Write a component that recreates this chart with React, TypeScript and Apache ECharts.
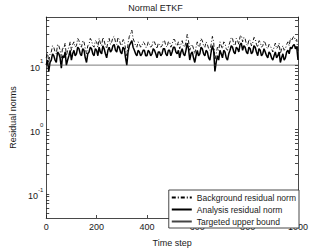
import React, { useEffect, useRef } from "react";
import * as echarts from "echarts";

const titleText = "Normal ETKF";
const xName = "Time step";
const yName = "Residual norms";
const seriesNames = ["Background residual norm", "Analysis residual norm", "Targeted upper bound"];

// time steps 0,5,...,1000
const timeSteps = Array.from({ length: 201 }, (_, i) => i * 5);

const analysisNorm = [
  10, 12, 8, 11, 12, 15, 14, 12, 11, 16, 15, 13, 9, 14, 13, 16, 10, 12, 14, 17,
  12, 15, 17, 14, 15, 19, 18, 15, 14, 18, 17, 13, 11, 15, 16, 19, 18, 15, 14, 18,
  17, 14, 19, 16, 15, 20, 18, 15, 13, 17, 19, 16, 17, 20, 21, 17, 16, 20, 19, 16,
  15, 19, 18, 13, 10, 16, 20, 22, 24, 19, 17, 15, 14, 17, 16, 14, 15, 17, 17, 14,
  14, 17, 16, 14, 15, 18, 17, 15, 13, 16, 16, 14, 15, 18, 18, 15, 14, 17, 17, 14,
  16, 19, 19, 16, 15, 17, 13, 16, 18, 15, 14, 17, 22, 18, 12, 15, 16, 13, 11, 14,
  17, 14, 15, 19, 18, 15, 14, 17, 16, 13, 12, 16, 20, 17, 8, 11, 14, 12, 17, 15,
  13, 17, 16, 13, 12, 15, 17, 20, 19, 16, 15, 19, 18, 16, 21, 22, 17, 20, 19, 16,
  15, 19, 18, 15, 16, 20, 19, 16, 14, 18, 17, 14, 15, 18, 16, 14, 13, 16, 15, 13,
  12, 14, 16, 13, 14, 16, 11, 13, 15, 12, 13, 16, 17, 15, 19, 18, 20, 21, 18, 19,
  12,
];

const backgroundNorm = [
  13, 16, 11, 15, 16, 20, 19, 16, 15, 21, 20, 17, 13, 19, 18, 22, 14, 17, 19, 23,
  17, 21, 23, 19, 20, 26, 24, 20, 19, 24, 23, 18, 15, 20, 21, 26, 24, 20, 19, 24,
  23, 19, 26, 22, 20, 27, 24, 20, 18, 23, 26, 21, 23, 27, 28, 23, 21, 27, 25, 21,
  20, 25, 24, 18, 14, 22, 28, 31, 35, 26, 23, 20, 19, 23, 21, 19, 20, 23, 22, 19,
  19, 23, 21, 19, 20, 24, 23, 20, 18, 22, 21, 19, 20, 24, 24, 20, 19, 23, 23, 19,
  21, 25, 25, 21, 20, 23, 18, 21, 24, 20, 19, 23, 30, 24, 17, 20, 21, 18, 15, 19,
  23, 19, 20, 26, 24, 20, 19, 23, 21, 18, 17, 21, 28, 23, 12, 15, 19, 17, 23, 20,
  18, 23, 22, 18, 17, 20, 23, 27, 26, 21, 20, 26, 24, 21, 28, 29, 23, 27, 26, 21,
  20, 25, 24, 20, 22, 27, 26, 21, 19, 24, 23, 19, 20, 24, 22, 19, 18, 21, 20, 18,
  16, 19, 22, 18, 19, 22, 15, 18, 20, 17, 18, 21, 23, 20, 26, 24, 27, 28, 24, 25,
  16,
];

const boundSteps = [0, 1000];
const boundValues = [10, 10];

const xTickValues = [0, 200, 400, 600, 800, 1000];
const yMajorExponents = [-1, 0, 1];
const yMinValue = 0.042;
const yMaxValue = 56;

const FONT = "'Liberation Sans', Arial, Helvetica, sans-serif";
const INK = "#1a1a1a";

export default function App() {
  const ref = useRef<HTMLDivElement>(null);
  useEffect(() => {
    if (!ref.current) return;
    const chart = echarts.init(ref.current, null, { renderer: "svg" });
    const lg = (v: number) => Math.log10(v);
    const yMin = lg(yMinValue);
    const yMax = lg(yMaxValue);
    const tickVals: number[] = [];
    for (let e = -2; e <= 1; e++) {
      for (let k = 1; k <= 9; k++) {
        const v = lg(k) + e;
        if (v >= yMin && v <= yMax) tickVals.push(v);
      }
    }
    const pair = (xs: number[], ys: number[]) => xs.map((x, i) => [x, lg(ys[i])]);

    const yLabel = {
      customValues: yMajorExponents,
      formatter: (v: number) => `{b|10}{s|${Math.round(v)}}`,
      margin: 3,
      fontSize: 9,
      fontFamily: FONT,
      color: INK,
      rich: {
        b: { fontSize: 9, fontFamily: FONT, color: INK, lineHeight: 14, verticalAlign: "bottom" },
        s: { fontSize: 6, fontFamily: FONT, color: INK, lineHeight: 6, verticalAlign: "top" },
      },
    };

    chart.setOption({
      animation: false,
      backgroundColor: "#fff",
      title: {
        text: titleText,
        left: "center",
        top: 1,
        padding: [2, 0, 2, 21],
        textStyle: { fontSize: 9, fontWeight: "normal", fontFamily: FONT, color: INK },
      },
      legend: {
        orient: "vertical",
        right: 12,
        bottom: 24,
        itemWidth: 20,
        itemHeight: 8,
        itemGap: 3,
        padding: [3, 3, 2, 2],
        borderColor: INK,
        borderWidth: 0.8,
        borderRadius: 0,
        backgroundColor: "#fff",
        itemStyle: { color: "rgba(0,0,0,0)", borderColor: "rgba(0,0,0,0)", borderWidth: 0, opacity: 0 },
        textStyle: { fontSize: 8.5, fontFamily: FONT, color: INK, lineHeight: 9 },
        data: seriesNames,
      },
      grid: { left: 32, right: 12, top: 17, bottom: 23, containLabel: false },
      xAxis: [
        {
          type: "value",
          min: 0,
          max: 1000,
          interval: 200,
          position: "bottom",
          name: xName,
          nameLocation: "middle",
          nameGap: 20,
          nameTextStyle: { fontSize: 9, fontFamily: FONT, color: INK },
          axisLine: { show: true, onZero: false, lineStyle: { color: INK, width: 0.8 } },
          axisTick: { inside: true, length: 3, lineStyle: { color: INK, width: 0.8 } },
          axisLabel: {
            fontSize: 9,
            fontFamily: FONT,
            color: INK,
            margin: 13,
            verticalAlign: "bottom",
            customValues: xTickValues,
            formatter: (v: number) => String(v),
          },
          splitLine: { show: false },
        },
        {
          type: "value",
          min: 0,
          max: 1000,
          interval: 200,
          position: "top",
          axisLine: { show: true, onZero: false, lineStyle: { color: INK, width: 0.8 } },
          axisTick: { inside: true, length: 3, lineStyle: { color: INK, width: 0.8 } },
          axisLabel: { show: false },
          splitLine: { show: false },
        },
      ],
      yAxis: [
        {
          type: "value",
          min: yMin,
          max: yMax,
          position: "left",
          name: yName,
          nameLocation: "middle",
          nameGap: 26,
          nameRotate: 90,
          nameTextStyle: { fontSize: 9, fontFamily: FONT, color: INK },
          axisLine: { show: true, onZero: false, lineStyle: { color: INK, width: 0.8 } },
          axisTick: { inside: true, length: 3, customValues: tickVals, lineStyle: { color: INK, width: 0.8 } },
          axisLabel: yLabel,
          splitLine: { show: false },
        },
        {
          type: "value",
          min: yMin,
          max: yMax,
          position: "right",
          axisLine: { show: true, onZero: false, lineStyle: { color: INK, width: 0.8 } },
          axisTick: { inside: true, length: 3, customValues: tickVals, lineStyle: { color: INK, width: 0.8 } },
          axisLabel: { show: false },
          splitLine: { show: false },
        },
      ],
      series: [
        {
          name: seriesNames[0],
          type: "line",
          symbol: "none",
          data: pair(timeSteps, backgroundNorm),
          lineStyle: { color: "#000", width: 0.9, type: [4, 2, 1, 2] },
          itemStyle: { color: "#000" },
        },
        {
          name: seriesNames[1],
          type: "line",
          symbol: "none",
          data: pair(timeSteps, analysisNorm),
          lineStyle: { color: "#000", width: 1.5 },
          itemStyle: { color: "#000" },
        },
        {
          name: seriesNames[2],
          type: "line",
          symbol: "none",
          data: pair(boundSteps, boundValues),
          lineStyle: { color: "#444", width: 0.7 },
          itemStyle: { color: "#444" },
        },
      ],
    });
    return () => chart.dispose();
  }, []);
  return <div ref={ref} style={{ position: "fixed", left: 0, top: 0, width: 311, height: 252 }} />;
}
